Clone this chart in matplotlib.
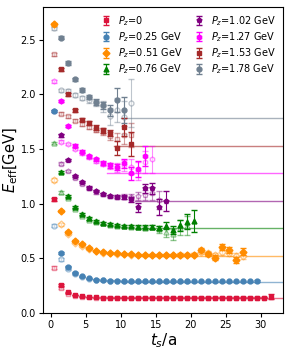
import numpy as np
import matplotlib.pyplot as plt

# =====================================================
# DATA
# =====================================================
labels = ["0", "0.25 GeV", "0.51 GeV", "0.76 GeV", "1.02 GeV", "1.27 GeV", "1.53 GeV", "1.78 GeV"]
colors = ["#DC143C", "#4682B4", "#FF8C00", "#008000", "#800080", "#FF00FF", "#A52A2A", "#708090"]
markers = ["s", "o", "D", "^", "p", "h", "s", "o"]
plateau = [0.137, 0.286, 0.526, 0.776, 1.027, 1.283, 1.529, 1.788]
plateau_start = [8, 10, 12, 13, 12, 8, 9, 10]

# filled points start at t=0.5 or 1.5
t0_f = [0.5, 0.5, 0.5, 1.5, 1.5, 1.5, 1.5, 1.5]
E_f = [
    [1.040, 0.258, 0.190, 0.165, 0.152, 0.146, 0.143, 0.142, 0.141, 0.141, 0.140, 0.140, 0.140, 0.140, 0.140, 0.140,
     0.140, 0.140, 0.140, 0.140, 0.140, 0.140, 0.140, 0.141, 0.140, 0.140, 0.141, 0.142, 0.141, 0.140, 0.142, 0.150],
    [1.850, 0.547, 0.425, 0.370, 0.338, 0.318, 0.306, 0.300, 0.297, 0.295, 0.293, 0.292, 0.291, 0.291, 0.290,
     0.290, 0.290, 0.290, 0.290, 0.290, 0.290, 0.290, 0.290, 0.290, 0.290, 0.290, 0.291, 0.290, 0.290, 0.291],
    [2.640, 0.935, 0.745, 0.663, 0.630, 0.593, 0.572, 0.558, 0.550, 0.545, 0.541, 0.538, 0.535, 0.533, 0.531,
     0.530, 0.529, 0.531, 0.534, 0.530, 0.535, 0.578, 0.540, 0.507, 0.608, 0.578, 0.486, 0.562],
    [1.290, 1.070, 0.967, 0.905, 0.865, 0.840, 0.825, 0.815, 0.808, 0.800, 0.796, 0.790, 0.790, 0.790,
     0.776, 0.800, 0.760, 0.805, 0.836, 0.840],
    [1.627, 1.400, 1.253, 1.200, 1.146, 1.116, 1.090, 1.072, 1.062, 1.060, 1.040, 0.967, 1.140, 1.140, 0.970, 1.025],
    [1.940, 1.710, 1.530, 1.475, 1.435, 1.405, 1.370, 1.350, 1.335, 1.370, 1.280, 1.317, 1.435],
    [2.229, 2.000, 1.855, 1.770, 1.740, 1.697, 1.672, 1.648, 1.510, 1.700, 1.550],
    [2.518, 2.287, 2.138, 2.044, 1.976, 1.930, 1.900, 1.855, 1.946, 1.860],
]
err_f = [
    [0.012, 0.010, 0.006, 0.004, 0.003, 0.003, 0.003, 0.003, 0.003, 0.003, 0.003, 0.003, 0.003, 0.003, 0.003, 0.003,
     0.003, 0.003, 0.003, 0.003, 0.003, 0.003, 0.003, 0.004, 0.004, 0.004, 0.004, 0.005, 0.005, 0.006, 0.008, 0.020],
    [0.012, 0.010, 0.006, 0.005, 0.004, 0.004, 0.004, 0.004, 0.004, 0.004, 0.004, 0.004, 0.004, 0.004, 0.004,
     0.004, 0.004, 0.004, 0.004, 0.004, 0.004, 0.004, 0.005, 0.005, 0.005, 0.005, 0.006, 0.006, 0.006, 0.007],
    [0.015, 0.012, 0.010, 0.008, 0.008, 0.007, 0.007, 0.007, 0.007, 0.007, 0.007, 0.007, 0.008, 0.008, 0.008,
     0.009, 0.010, 0.010, 0.012, 0.012, 0.014, 0.018, 0.020, 0.022, 0.028, 0.025, 0.030, 0.030],
    [0.012, 0.012, 0.010, 0.010, 0.010, 0.010, 0.010, 0.010, 0.010, 0.010, 0.012, 0.012, 0.015, 0.018,
     0.020, 0.030, 0.040, 0.050, 0.070, 0.100],
    [0.012, 0.012, 0.012, 0.012, 0.012, 0.012, 0.012, 0.012, 0.014, 0.018, 0.025, 0.040, 0.040, 0.050, 0.070, 0.090],
    [0.012, 0.012, 0.012, 0.014, 0.014, 0.015, 0.018, 0.020, 0.030, 0.040, 0.060, 0.070, 0.090],
    [0.015, 0.015, 0.015, 0.015, 0.018, 0.020, 0.022, 0.030, 0.060, 0.080, 0.110],
    [0.015, 0.015, 0.015, 0.018, 0.020, 0.025, 0.030, 0.050, 0.110, 0.120],
]

# open points start at t=0.5
E_o = [
    [0.416, 0.228, 0.178, 0.158, 0.150, 0.145, 0.142, 0.141, 0.140, 0.140, 0.140, 0.140, 0.140, 0.140, 0.140, 0.140,
     0.140, 0.140, 0.140, 0.140, 0.140, 0.140, 0.140, 0.140, 0.140, 0.141, 0.140, 0.141, 0.141, 0.140, 0.141],
    [0.800, 0.490, 0.400, 0.355, 0.330, 0.313, 0.303, 0.298, 0.295, 0.293, 0.292, 0.291, 0.290, 0.290, 0.290,
     0.290, 0.290, 0.290, 0.290, 0.290],
    [1.216, 0.812, 0.720, 0.645, 0.610, 0.585, 0.565, 0.553, 0.547, 0.542, 0.538, 0.535, 0.532, 0.530, 0.529,
     0.528, 0.530, 0.531, 0.528, 0.533, 0.532, 0.560, 0.545, 0.530, 0.560, 0.550, 0.520, 0.520],
    [1.557, 1.104, 1.050, 0.955, 0.890, 0.855, 0.833, 0.820, 0.810, 0.800, 0.795, 0.790, 0.785, 0.780, 0.785,
     0.765, 0.740, 0.720, 0.780, 0.800],
    [1.850, 1.368, 1.300, 1.240, 1.185, 1.140, 1.105, 1.085, 1.070, 1.060, 1.065, 1.060, 1.070, 1.080, 1.095, 1.034],
    [2.120, 1.567, 1.545, 1.500, 1.460, 1.425, 1.395, 1.365, 1.345, 1.330, 1.350, 1.340, 1.300, 1.380, 1.405],
    [2.366, 1.825, 1.800, 1.760, 1.730, 1.700, 1.675, 1.655, 1.620, 1.590, 1.627, 1.627],
    [2.606, 2.037, 2.031, 1.998, 1.970, 1.950, 1.920, 1.890, 1.800, 1.855, 1.790, 1.920],
]
err_o = [
    [0.012, 0.008, 0.005, 0.004, 0.003, 0.003, 0.003, 0.003, 0.003, 0.003, 0.003, 0.003, 0.003, 0.003, 0.003, 0.003,
     0.003, 0.003, 0.003, 0.003, 0.003, 0.003, 0.003, 0.004, 0.004, 0.004, 0.004, 0.005, 0.005, 0.006, 0.006],
    [0.012, 0.010, 0.006, 0.005, 0.004, 0.004, 0.004, 0.004, 0.004, 0.004, 0.004, 0.004, 0.004, 0.004, 0.004,
     0.004, 0.004, 0.005, 0.005, 0.005],
    [0.015, 0.012, 0.010, 0.008, 0.008, 0.007, 0.007, 0.007, 0.007, 0.007, 0.007, 0.007, 0.008, 0.008, 0.008,
     0.009, 0.010, 0.010, 0.012, 0.012, 0.014, 0.018, 0.020, 0.022, 0.028, 0.025, 0.030, 0.030],
    [0.012, 0.012, 0.010, 0.010, 0.010, 0.010, 0.010, 0.010, 0.010, 0.010, 0.012, 0.012, 0.015, 0.018, 0.020,
     0.030, 0.040, 0.050, 0.070, 0.090],
    [0.012, 0.012, 0.012, 0.012, 0.012, 0.012, 0.012, 0.012, 0.014, 0.018, 0.025, 0.030, 0.040, 0.050, 0.060, 0.080],
    [0.012, 0.012, 0.012, 0.012, 0.014, 0.015, 0.018, 0.020, 0.030, 0.040, 0.050, 0.070, 0.080, 0.100, 0.120],
    [0.015, 0.015, 0.015, 0.015, 0.018, 0.020, 0.022, 0.030, 0.040, 0.060, 0.080, 0.110],
    [0.015, 0.015, 0.015, 0.018, 0.020, 0.025, 0.030, 0.050, 0.080, 0.110, 0.150, 0.220],
]

# =====================================================
# PLOT
# =====================================================
fig = plt.figure(figsize=(2.91, 3.49), dpi=100)
ax = fig.add_axes([0.148, 0.103, 0.825, 0.877])

xmax = 33.2
for i in range(len(labels)):
    c = colors[i]
    tf = t0_f[i] + np.arange(len(E_f[i]))
    to = 0.5 + np.arange(len(E_o[i]))
    ax.plot([plateau_start[i], xmax], [plateau[i], plateau[i]], color=c, lw=1.0, alpha=0.6, zorder=1)
    ax.errorbar(to, E_o[i], yerr=err_o[i], fmt=markers[i], color=c, mfc="white", mec=c, ms=3.5,
                elinewidth=0.8, capsize=2.5, alpha=0.45, zorder=2)
    ax.errorbar(tf, E_f[i], yerr=err_f[i], fmt=markers[i], color=c, ms=3.5,
                elinewidth=0.8, capsize=2.5, zorder=3, label="$P_z$=" + labels[i])

ax.set_xlim(-1.1, xmax)
ax.set_ylim(0, 2.8)
ax.set_xticks([0, 5, 10, 15, 20, 25, 30])
ax.set_yticks([0.0, 0.5, 1.0, 1.5, 2.0, 2.5])
ax.tick_params(labelsize=7, length=3, pad=2)
ax.set_xlabel("$t_s$/a", fontsize=11)
ax.set_ylabel(r"$E_{\rm eff}$[GeV]", fontsize=10.5)
ax.xaxis.set_label_coords(0.5, -0.058)
ax.yaxis.set_label_coords(-0.098, 0.5)
ax.legend(ncol=2, fontsize=7, frameon=False, loc="upper right", handletextpad=0.3,
          columnspacing=0.6, labelspacing=0.25, borderaxespad=0.3)

plt.savefig("out.png", dpi=100)
